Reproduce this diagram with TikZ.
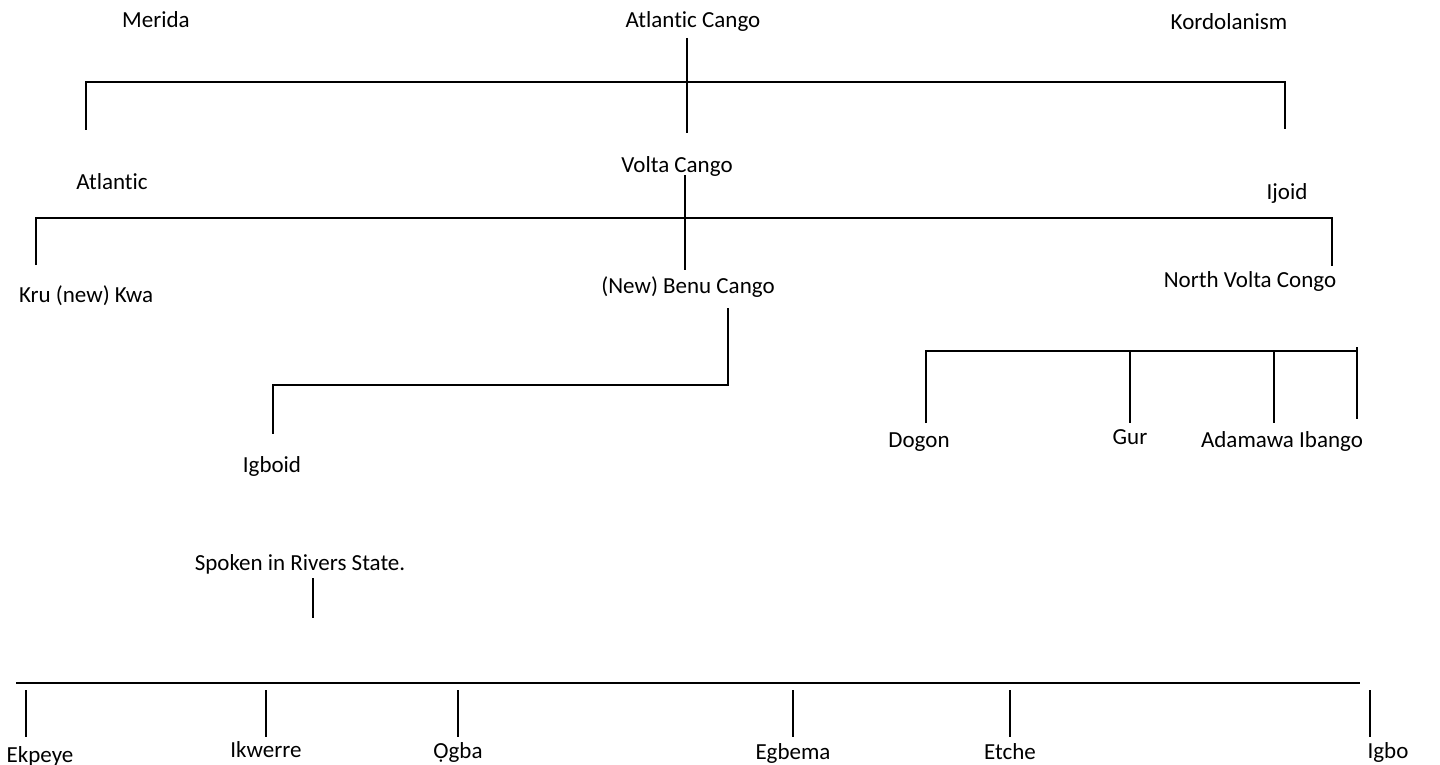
\documentclass[tikz,border=0pt]{standalone}
\usepackage{fontspec}
\setmainfont{Carlito}[Ligatures=CommonOff]
\begin{document}
\begin{tikzpicture}[x=1pt,y=-1pt,
  lbl/.style={anchor=base, inner sep=0pt, font=\fontsize{23}{27}\selectfont},
  ln/.style={draw=black, line width=1.8pt}]
\useasboundingbox (0,0) rectangle (1440,765);

% labels
\node[lbl] (merida) at (156,28) {Merida};
\node[lbl] (ac) at (693,28) {Atlantic Cango};
\node[lbl] (kord) at (1229,30) {Kordolanism};
\node[lbl] (atl) at (112,189) {Atlantic};
\node[lbl] (vc) at (677,172) {Volta Cango};
\node[lbl] (ijoid) at (1287,199) {Ijoid};
\node[lbl] (kru) at (86,302) {Kru (new) Kwa};
\node[lbl] (benu) at (688,293) {(New) Benu Cango};
\node[lbl] (nvc) at (1250,287) {North Volta Congo};
\node[lbl] (igboid) at (272,472) {Igboid};
\node[lbl] (dogon) at (919,447) {Dogon};
\node[lbl] (gur) at (1130,444) {Gur};
\node[lbl] (adam) at (1282,447) {Adamawa Ibango};
\node[lbl] (spoken) at (300,570) {Spoken in Rivers State.};
\node[lbl] (ekpeye) at (40,762) {Ekpeye};
\node[lbl] (ikwerre) at (266,757) {Ikwerre};
\node[lbl] (ogba) at (458,758) {Ọgba};
\node[lbl] (egbema) at (793,759) {Egbema};
\node[lbl] (etche) at (1010,759) {Etche};
\node[lbl] (igbo) at (1388,758) {Igbo};

% junction coordinates
\coordinate (acT) at (687,38);  \coordinate (acB) at (687,133);
\coordinate (h1L) at (86,82);   \coordinate (h1R) at (1285,82);
\coordinate (h1Ld) at (86,130); \coordinate (h1Rd) at (1285,129);

\coordinate (vcT) at (685,175); \coordinate (vcB) at (685,270);
\coordinate (h2L) at (36,218);  \coordinate (h2R) at (1332,218);
\coordinate (h2Ld) at (36,265); \coordinate (h2Rd) at (1332,266);

\coordinate (bT) at (728,308);  \coordinate (bC) at (728,385);
\coordinate (bL) at (273,385);  \coordinate (bLd) at (273,434);

\coordinate (dL) at (926,351);  \coordinate (dR) at (1357,351);
\coordinate (dRt) at (1357,347); \coordinate (dRd) at (1357,419);
\coordinate (dLd) at (926,423);
\coordinate (gT) at (1130,351); \coordinate (gD) at (1130,423);
\coordinate (aT) at (1274,351); \coordinate (aD) at (1274,423);

\coordinate (sT) at (313,578);  \coordinate (sB) at (313,618);
\coordinate (bhL) at (16,683);  \coordinate (bhR) at (1360,683);

% connectors
\draw[ln] (acT) -- (acB);
\draw[ln] (h1Ld) -- (h1L) -- (h1R) -- (h1Rd);
\draw[ln] (vcT) -- (vcB);
\draw[ln] (h2Ld) -- (h2L) -- (h2R) -- (h2Rd);
\draw[ln] (bT) -- (bC) -- (bL) -- (bLd);
\draw[ln] (dLd) -- (dL) -- (dR);
\draw[ln] (dRt) -- (dRd);
\draw[ln] (gT) -- (gD);
\draw[ln] (aT) -- (aD);
\draw[ln] (sT) -- (sB);
\draw[ln] (bhL) -- (bhR);
\foreach \x in {26,266,458,793,1010,1370}
  \draw[ln] (\x,690) -- (\x,737);
\end{tikzpicture}
\end{document}
